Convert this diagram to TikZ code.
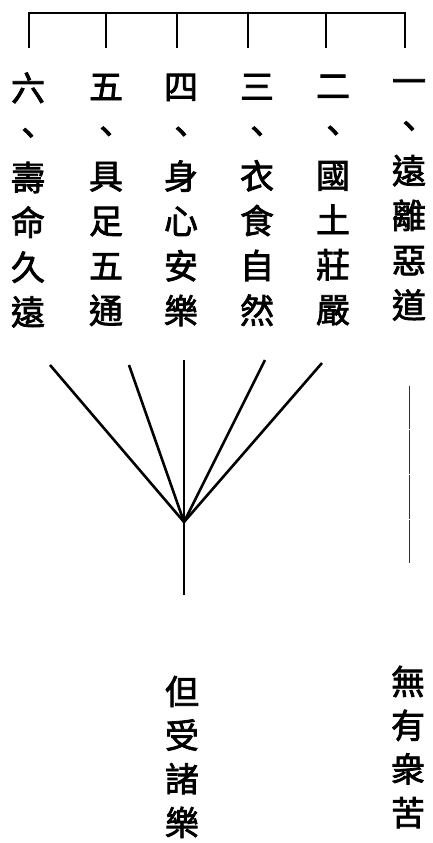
\documentclass[tikz,border=0pt]{standalone}
\usepackage{fontspec}
\newfontfamily\cjk[FakeBold=2.2]{Noto Sans CJK TC}
\begin{document}
\begin{tikzpicture}[x=1pt,y=-1pt,
  col/.style={font=\cjk\fontsize{34}{44.8}\selectfont, align=center, inner sep=0pt},
  colb/.style={font=\cjk\fontsize{34}{43.7}\selectfont, align=center, inner sep=0pt},
  bracket/.style={line width=2pt},
  fan/.style={line width=2.6pt},
  thin/.style={line width=1pt, black!80}]
\useasboundingbox (0,0) rectangle (432,843);
% bracket
\coordinate (bl) at (29,13);
\coordinate (br) at (405,13);
\draw[bracket] (29,48) -- (bl) -- (br) -- (405,48);
\foreach \x in {106,177,248,326} \draw[bracket] (\x,13) -- (\x,48);
% columns
\node[col] (c6) at (28,200) {六\\、\\壽\\命\\久\\遠};
\node[col] (c5) at (106,200) {五\\、\\具\\足\\五\\通};
\node[col] (c4) at (181,200) {四\\、\\身\\心\\安\\樂};
\node[col] (c3) at (257,200) {三\\、\\衣\\食\\自\\然};
\node[col] (c2) at (333,200) {二\\、\\國\\土\\莊\\嚴};
\node[col] (c1) at (409,200) {一\\、\\遠\\離\\惡\\道};
% fan
\coordinate (o) at (184,522);
\coordinate (f1) at (50,365);
\coordinate (f2) at (129,365);
\coordinate (f3) at (184,360);
\coordinate (f4) at (265,360);
\coordinate (f5) at (322,363);
\coordinate (s) at (184,595);
\foreach \f in {f1,f2,f3,f4,f5} \draw[fan] (\f) -- (o);
\draw[fan] (o) -- (s);
% right line
\coordinate (r0) at (409,386);
\coordinate (r1) at (409,428.5);
\coordinate (r2) at (409,430);
\coordinate (r3) at (409,473.5);
\coordinate (r4) at (409,475);
\coordinate (r5) at (409,518.5);
\coordinate (r6) at (409,520);
\coordinate (r7) at (409,563);
\draw[thin] (r0) -- (r1) (r2) -- (r3) (r4) -- (r5) (r6) -- (r7);
% bottom texts
\node[colb] (b1) at (182,757) {但\\受\\諸\\樂};
\node[colb] (b2) at (408,747) {無\\有\\衆\\苦};
\end{tikzpicture}
\end{document}
